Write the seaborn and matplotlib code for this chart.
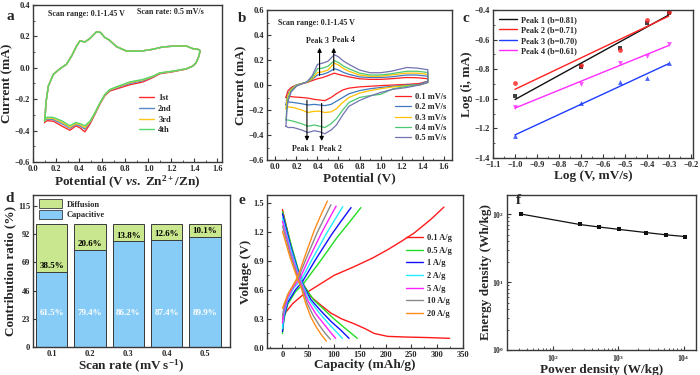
import numpy as np
import pandas as pd
import seaborn as sns
import matplotlib.pyplot as plt
import matplotlib.patches as mpatches
from matplotlib.ticker import MultipleLocator, AutoMinorLocator, LogLocator, NullFormatter

# ---------------- data ----------------
# (a) CV, first 4 cycles at 0.5 mV/s
a_cycles = ['1st', '2nd', '3rd', '4th']
a_v_up = [0.10, 0.104, 0.112, 0.133, 0.176, 0.234, 0.29, 0.335, 0.378, 0.407, 0.45, 0.493,
          0.551, 0.585, 0.623, 0.66, 0.724, 0.81, 0.926, 1.04, 1.127, 1.24, 1.33, 1.387, 1.43, 1.45]
a_i_up = [-0.34, -0.33, -0.224, -0.117, -0.042, -0.006, 0.022, 0.075, 0.139, 0.171, 0.165, 0.186,
          0.229, 0.225, 0.193, 0.178, 0.135, 0.107, 0.105, 0.118, 0.133, 0.139, 0.139, 0.122, 0.118, 0.11]
a_v_dn = [1.45, 1.44, 1.416, 1.387, 1.33, 1.214, 1.1, 1.04, 0.954, 0.84, 0.753, 0.666, 0.623,
          0.58, 0.536, 0.493, 0.45, 0.407, 0.372, 0.32, 0.248, 0.176, 0.124, 0.104, 0.10]
a_i_dn_1st = [0.11, 0.075, 0.033, 0.011, -0.008, -0.025, -0.038, -0.062, -0.09, -0.108, -0.128, -0.148, -0.178,
              -0.232, -0.298, -0.36, -0.408, -0.382, -0.37, -0.398, -0.37, -0.34, -0.337, -0.345, -0.35]
a_i_dn_2nd = [0.11, 0.075, 0.033, 0.011, -0.007, -0.023, -0.035, -0.058, -0.082, -0.1, -0.12, -0.143, -0.174,
              -0.228, -0.293, -0.35, -0.39, -0.37, -0.362, -0.385, -0.355, -0.33, -0.327, -0.335, -0.34]
a_i_dn_3rd = [0.11, 0.075, 0.033, 0.011, -0.006, -0.022, -0.033, -0.055, -0.077, -0.094, -0.116, -0.14, -0.172,
              -0.226, -0.29, -0.345, -0.38, -0.362, -0.355, -0.378, -0.345, -0.322, -0.32, -0.33, -0.335]
a_i_dn_4th = [0.11, 0.075, 0.033, 0.011, -0.006, -0.021, -0.032, -0.053, -0.074, -0.09, -0.113, -0.138, -0.17,
              -0.224, -0.288, -0.341, -0.369, -0.356, -0.348, -0.369, -0.337, -0.316, -0.314, -0.325, -0.33]

# (b) CV at different scan rates
b_rates = ['0.1 mV/s', '0.2 mV/s', '0.3 mV/s', '0.4 mV/s', '0.5 mV/s']
b_v_up = [0.10, 0.11, 0.12, 0.15, 0.20, 0.25, 0.30, 0.35, 0.40, 0.45, 0.50, 0.56, 0.60, 0.65,
          0.70, 0.80, 0.90, 1.00, 1.10, 1.25, 1.35, 1.45]
b_v_dn = [1.45, 1.37, 1.25, 1.12, 1.00, 0.90, 0.80, 0.70, 0.64, 0.58, 0.53, 0.47, 0.42, 0.37,
          0.31, 0.25, 0.17, 0.12, 0.10]
b_i_up_01 = [-0.10, -0.07, -0.045, -0.02, 0.0, 0.01, 0.02, 0.035, 0.05, 0.06, 0.075, 0.095, 0.085, 0.075,
             0.065, 0.05, 0.045, 0.045, 0.05, 0.06, 0.058, 0.05]
b_i_up_02 = [-0.16, -0.10, -0.07, -0.03, 0.0, 0.012, 0.022, 0.045, 0.08, 0.085, 0.10, 0.13, 0.12, 0.10,
             0.085, 0.065, 0.06, 0.06, 0.065, 0.08, 0.08, 0.07]
b_i_up_03 = [-0.19, -0.12, -0.08, -0.035, -0.003, 0.012, 0.022, 0.05, 0.10, 0.105, 0.12, 0.175, 0.16, 0.13,
             0.11, 0.08, 0.07, 0.07, 0.08, 0.095, 0.095, 0.085]
b_i_up_04 = [-0.28, -0.17, -0.11, -0.045, -0.005, 0.01, 0.025, 0.06, 0.13, 0.135, 0.15, 0.195, 0.18, 0.15,
             0.13, 0.095, 0.08, 0.08, 0.09, 0.11, 0.11, 0.10]
b_i_up_05 = [-0.33, -0.20, -0.13, -0.055, -0.01, 0.008, 0.025, 0.074, 0.165, 0.175, 0.19, 0.243, 0.225, 0.19,
             0.165, 0.12, 0.098, 0.098, 0.11, 0.14, 0.135, 0.122]
b_i_dn_01 = [0.03, 0.012, 0.005, 0.0, -0.005, -0.01, -0.015, -0.025, -0.04, -0.07, -0.10, -0.125, -0.12,
             -0.115, -0.105, -0.10, -0.095, -0.09, -0.10]
b_i_dn_02 = [0.03, 0.005, 0.0, -0.01, -0.02, -0.03, -0.045, -0.07, -0.10, -0.13, -0.155, -0.165, -0.16,
             -0.155, -0.16, -0.15, -0.14, -0.135, -0.16]
b_i_dn_03 = [0.02, 0.0, -0.005, -0.015, -0.03, -0.045, -0.065, -0.10, -0.14, -0.19, -0.215, -0.22, -0.21,
             -0.21, -0.22, -0.20, -0.18, -0.175, -0.19]
b_i_dn_04 = [0.02, 0.0, -0.01, -0.03, -0.075, -0.085, -0.10, -0.14, -0.20, -0.27, -0.31, -0.34, -0.33,
             -0.32, -0.33, -0.31, -0.29, -0.28, -0.28]
b_i_dn_05 = [0.02, 0.0, -0.02, -0.034, -0.06, -0.089, -0.124, -0.17, -0.24, -0.32, -0.36, -0.39, -0.374,
             -0.366, -0.38, -0.36, -0.34, -0.34, -0.33]

# (c) log(i) vs log(v)
c_logv = [-1.0, -0.699, -0.523, -0.398, -0.301]
c_peak1 = [-0.98, -0.786, -0.657, -0.486, -0.418]
c_peak2 = [-0.893, -0.77, -0.668, -0.468, -0.411]
c_peak3 = [-1.252, -1.03, -0.889, -0.861, -0.757]
c_peak4 = [-1.055, -0.90, -0.759, -0.711, -0.632]
c_labels = ['Peak 1 (b=0.81)', 'Peak 2 (b=0.71)', 'Peak 3 (b=0.70)', 'Peak 4 (b=0.61)']

# (d) capacitive / diffusion contribution
d_rates = ['0.1', '0.2', '0.3', '0.4', '0.5']
d_capacitive = [61.5, 79.4, 86.2, 87.4, 89.9]
d_diffusion = [38.5, 20.6, 13.8, 12.6, 10.1]

# (e) GCD curves: capacity (mAh/g) and voltage (V), charge / discharge
e_rates = ['0.1 A/g', '0.5 A/g', '1 A/g', '2 A/g', '5 A/g', '10 A/g', '20 A/g']
e_chg_cap = {
    '0.1 A/g': [0, 5, 20, 40, 55, 100, 139, 175, 204, 230, 256, 288, 313],
    '0.5 A/g': [0, 3, 10, 25, 40, 75, 107, 130, 152],
    '1 A/g': [0, 3, 10, 25, 38, 65, 95, 115, 133],
    '2 A/g': [0, 3, 10, 22, 36, 58, 85, 102, 117],
    '5 A/g': [0, 3, 10, 20, 34, 52, 75, 90, 104],
    '10 A/g': [0, 3, 10, 20, 32, 48, 68, 82, 94],
    '20 A/g': [0, 5, 12, 22, 30, 45, 62, 75, 87],
}
e_chg_v = {
    '0.1 A/g': [0.30, 0.36, 0.46, 0.55, 0.60, 0.75, 0.84, 0.93, 1.015, 1.10, 1.19, 1.33, 1.455],
    '0.5 A/g': [0.15, 0.30, 0.45, 0.58, 0.66, 0.91, 1.15, 1.30, 1.45],
    '1 A/g': [0.17, 0.32, 0.47, 0.60, 0.68, 0.92, 1.17, 1.32, 1.45],
    '2 A/g': [0.20, 0.35, 0.50, 0.62, 0.70, 0.92, 1.18, 1.33, 1.46],
    '5 A/g': [0.26, 0.38, 0.52, 0.62, 0.72, 0.93, 1.18, 1.33, 1.465],
    '10 A/g': [0.33, 0.42, 0.55, 0.64, 0.74, 0.95, 1.20, 1.35, 1.48],
    '20 A/g': [0.41, 0.48, 0.57, 0.66, 0.74, 0.97, 1.22, 1.38, 1.517],
}
e_dis_cap = {
    '0.1 A/g': [0, 10, 20, 30, 39, 55, 75, 94, 115, 139, 160, 178, 204, 240, 280, 324],
    '0.5 A/g': [0, 15, 30, 42, 60, 80, 100, 120, 145],
    '1 A/g': [0, 15, 30, 41, 55, 75, 95, 112, 129],
    '2 A/g': [0, 15, 30, 40, 52, 70, 88, 102, 116],
    '5 A/g': [0, 15, 30, 39, 50, 65, 80, 92, 103],
    '10 A/g': [0, 15, 30, 38, 48, 60, 72, 83, 93],
    '20 A/g': [0, 15, 30, 36, 45, 55, 65, 75, 85],
}
e_dis_v = {
    '0.1 A/g': [1.43, 1.20, 0.98, 0.80, 0.67, 0.53, 0.44, 0.36, 0.30, 0.25, 0.20, 0.15, 0.12, 0.113, 0.108, 0.10],
    '0.5 A/g': [1.41, 1.10, 0.82, 0.64, 0.50, 0.40, 0.30, 0.21, 0.10],
    '1 A/g': [1.385, 1.07, 0.80, 0.64, 0.50, 0.38, 0.27, 0.19, 0.10],
    '2 A/g': [1.34, 1.04, 0.78, 0.64, 0.50, 0.37, 0.26, 0.18, 0.10],
    '5 A/g': [1.31, 1.00, 0.75, 0.63, 0.48, 0.35, 0.25, 0.17, 0.10],
    '10 A/g': [1.26, 0.97, 0.72, 0.62, 0.46, 0.33, 0.23, 0.15, 0.09],
    '20 A/g': [1.205, 0.93, 0.70, 0.63, 0.46, 0.32, 0.22, 0.14, 0.07],
}

# (f) Ragone plot
f_power = [33, 257, 517, 1040, 2640, 5340, 10700]
f_energy = [101, 71, 65, 60, 54, 50, 47]

# ---------------- style ----------------
sns.set_theme(style='ticks')
plt.rcParams['font.family'] = ['Liberation Serif', 'DejaVu Serif']
plt.rcParams['font.weight'] = 'bold'
plt.rcParams['axes.labelweight'] = 'bold'
plt.rcParams['axes.labelsize'] = 9.5
plt.rcParams['axes.labelpad'] = 1.0
plt.rcParams['mathtext.fontset'] = 'custom'
plt.rcParams['mathtext.rm'] = 'Liberation Serif:bold'
plt.rcParams['mathtext.bf'] = 'Liberation Serif:bold'
plt.rcParams['mathtext.it'] = 'Liberation Serif:bold:italic'
plt.rcParams['axes.edgecolor'] = '#383838'
plt.rcParams['axes.linewidth'] = 1.0

fig = plt.figure(figsize=(7, 3.75), dpi=100)


def make_ax(x0, y0, x1, y1):
    # pixel box -> figure fraction
    return fig.add_axes([x0 / 700, 1 - y1 / 375, (x1 - x0) / 700, (y1 - y0) / 375])


def style_ax(ax, minor=True):
    ax.tick_params(which='major', direction='in', length=3, width=0.8, labelsize=6, pad=2, color='#383838')
    ax.tick_params(which='minor', direction='in', length=1.6, width=0.6, color='#383838')
    if minor:
        ax.xaxis.set_minor_locator(AutoMinorLocator(2))
        ax.yaxis.set_minor_locator(AutoMinorLocator(2))
    for lab in ax.get_xticklabels() + ax.get_yticklabels():
        lab.set_fontweight('bold')


leg_kw = dict(frameon=False, fontsize=6, title=None, handletextpad=0.5, borderpad=0.2)

# ---------------- (a) ----------------
rows = []
for name, dn in zip(a_cycles, [a_i_dn_1st, a_i_dn_2nd, a_i_dn_3rd, a_i_dn_4th]):
    for v, i in zip(a_v_up + a_v_dn, a_i_up + dn):
        rows.append((name, v, i))
df_a = pd.DataFrame(rows, columns=['cycle', 'v', 'i'])

ax = make_ax(33, 5, 222, 162)
sns.lineplot(data=df_a, x='v', y='i', hue='cycle', sort=False, estimator=None, lw=1.0,
             palette=['#FF2A2A', '#5B87C2', '#FFC61E', '#55D86B'], ax=ax)
ax.set_xlim(0, 1.64)
ax.set_ylim(-0.6, 0.4)
ax.xaxis.set_major_locator(MultipleLocator(0.2))
ax.yaxis.set_major_locator(MultipleLocator(0.2))
ax.xaxis.set_major_formatter('{x:.1f}')
ax.yaxis.set_major_formatter('{x:.1f}')
ax.set_xlabel(r'Potential (V $\mathit{vs.}$ Zn$^{2+}$/Zn)')
ax.set_ylabel('Current (mA)')
ax.text(0.08, 0.93, 'Scan range: 0.1-1.45 V', transform=ax.transAxes, fontsize=5.8, fontweight='bold')
ax.text(0.55, 0.94, 'Scan rate: 0.5 mV/s', transform=ax.transAxes, fontsize=5.8, fontweight='bold')
sns.move_legend(ax, 'lower left', bbox_to_anchor=(0.53, 0.14), handlelength=1.8, labelspacing=0.32, **leg_kw)
style_ax(ax)

# ---------------- (b) ----------------
rows = []
ups = [b_i_up_01, b_i_up_02, b_i_up_03, b_i_up_04, b_i_up_05]
dns = [b_i_dn_01, b_i_dn_02, b_i_dn_03, b_i_dn_04, b_i_dn_05]
for name, up, dn in zip(b_rates, ups, dns):
    for v, i in zip(b_v_up + b_v_dn, up + dn):
        rows.append((name, v, i))
df_b = pd.DataFrame(rows, columns=['rate', 'v', 'i'])

ax = make_ax(267, 10, 452, 160)
sns.lineplot(data=df_b, x='v', y='i', hue='rate', sort=False, estimator=None, lw=0.9,
             palette=['#FF2020', '#3F78C0', '#FFC000', '#4CC870', '#7272B0'], ax=ax)
ax.set_xlim(-0.08, 1.68)
ax.set_ylim(-0.6, 0.6)
ax.xaxis.set_major_locator(MultipleLocator(0.2))
ax.yaxis.set_major_locator(MultipleLocator(0.2))
ax.xaxis.set_major_formatter('{x:.1f}')
ax.yaxis.set_major_formatter('{x:.1f}')
ax.set_xlabel('Potential (V)')
ax.set_ylabel('Current (mA)')
ax.text(0.06, 0.9, 'Scan range: 0.1-1.45 V', transform=ax.transAxes, fontsize=5.8, fontweight='bold')
arrow = dict(arrowstyle='-|>', color='black', lw=0.8, mutation_scale=6)
ax.annotate('', xy=(0.42, 0.32), xytext=(0.42, 0.055), arrowprops=arrow)
ax.annotate('', xy=(0.555, 0.32), xytext=(0.555, 0.095), arrowprops=arrow)
ax.annotate('', xy=(0.30, -0.47), xytext=(0.30, -0.10), arrowprops=arrow)
ax.annotate('', xy=(0.44, -0.47), xytext=(0.44, -0.125), arrowprops=arrow)
ax.text(0.40, 0.35, 'Peak 3', ha='center', va='center', fontsize=5.8, fontweight='bold')
ax.text(0.65, 0.36, 'Peak 4', ha='center', va='center', fontsize=5.8, fontweight='bold')
ax.text(0.27, -0.515, 'Peak 1', ha='center', va='center', fontsize=5.8, fontweight='bold')
ax.text(0.52, -0.515, 'Peak 2', ha='center', va='center', fontsize=5.8, fontweight='bold')
sns.move_legend(ax, 'lower left', bbox_to_anchor=(0.66, 0.08), handlelength=1.9, labelspacing=0.28, **leg_kw)
style_ax(ax)

# ---------------- (c) ----------------
ax = make_ax(493, 10, 693, 158)
c_cols = ['#111111', '#FF2020', '#1E3CFF', '#FF2CFF']
c_marks = ['s', 'o', '^', 'v']
for ys, col, mk in zip([c_peak1, c_peak2, c_peak3, c_peak4], c_cols, c_marks):
    sns.regplot(x=c_logv, y=ys, ci=None, marker=mk, color=col, ax=ax,
                scatter_kws={'s': 12, 'linewidths': 0}, line_kws={'lw': 1.0})
ax.set_xlim(-1.1, -0.19)
ax.set_ylim(-1.4, -0.4)
ax.xaxis.set_major_locator(MultipleLocator(0.1))
ax.yaxis.set_major_locator(MultipleLocator(0.2))
ax.xaxis.set_major_formatter('{x:.1f}')
ax.yaxis.set_major_formatter('{x:.1f}')
ax.set_xlabel('Log (V, mV/s)')
ax.set_ylabel('Log (i, mA)')
ax.legend(ax.get_lines(), c_labels, loc='upper left', bbox_to_anchor=(0.0, 1.0),
          handlelength=2.2, labelspacing=0.3, **leg_kw)
style_ax(ax)

# ---------------- (d) ----------------
ax = make_ax(33, 195, 230, 347)
col_cap, col_dif = '#86CCF6', '#C9E78E'
totals = [c + d for c, d in zip(d_capacitive, d_diffusion)]
sns.barplot(x=d_rates, y=totals, color=col_dif, saturation=1, width=0.82,
            edgecolor='#3a3a3a', linewidth=0.7, ax=ax)
sns.barplot(x=d_rates, y=d_capacitive, color=col_cap, saturation=1, width=0.82,
            edgecolor='#3a3a3a', linewidth=0.7, ax=ax)
for k, (cp, df_) in enumerate(zip(d_capacitive, d_diffusion)):
    ax.text(k, 28, f'{cp}%', ha='center', va='center', color='white', fontsize=6.5, fontweight='bold')
    ax.text(k, cp + 1.2, f'{df_}%', ha='center', va='bottom', color='black', fontsize=6.5, fontweight='bold')
ax.set_xlim(-0.49, 4.65)
ax.set_ylim(0, 124)
ax.set_yticks([0, 23, 46, 69, 92, 115])
ax.set_xlabel(r'Scan rate (mV s$^{-1}$)', labelpad=0.0)
ax.set_ylabel('Contribution ratio (%)')
ax.legend(handles=[mpatches.Patch(facecolor=col_dif, edgecolor='#3a3a3a', lw=0.6, label='Diffusion'),
                   mpatches.Patch(facecolor=col_cap, edgecolor='#3a3a3a', lw=0.6, label='Capacitive')],
          loc='upper left', bbox_to_anchor=(0.0, 1.01), handlelength=2.8, handleheight=1.3,
          labelspacing=0.15, **leg_kw)
style_ax(ax, minor=False)
ax.tick_params(axis='x', length=0)

# ---------------- (e) ----------------
rows = []
for r in e_rates:
    for c, v in zip(e_chg_cap[r], e_chg_v[r]):
        rows.append((r, 'charge', c, v))
    for c, v in zip(e_dis_cap[r], e_dis_v[r]):
        rows.append((r, 'discharge', c, v))
df_e = pd.DataFrame(rows, columns=['rate', 'branch', 'cap', 'v'])

ax = make_ax(267, 195, 463, 348)
sns.lineplot(data=df_e, x='cap', y='v', hue='rate', units='branch', estimator=None, sort=False, lw=1.0,
             palette=['#FF1A1A', '#22DD22', '#1010FF', '#22EEFF', '#FF22FF', '#8A8A8A', '#FF8C1A'], ax=ax)
ax.set_xlim(-30, 350)
ax.set_ylim(0, 1.58)
ax.xaxis.set_major_locator(MultipleLocator(50))
ax.yaxis.set_major_locator(MultipleLocator(0.3))
ax.yaxis.set_major_formatter('{x:.1f}')
ax.set_xlabel('Capacity (mAh/g)', labelpad=0.0)
ax.set_ylabel('Voltage (V)')
sns.move_legend(ax, 'lower left', bbox_to_anchor=(0.68, 0.16), handlelength=2.0, labelspacing=0.55, **leg_kw)
style_ax(ax)

# ---------------- (f) ----------------
ax = make_ax(507, 195, 696, 350)
sns.lineplot(x=f_power, y=f_energy, marker='s', color='#111111', markersize=3.5,
             markeredgewidth=0, lw=0.9, ax=ax)
ax.set_xscale('log')
ax.set_yscale('log')
ax.set_xlim(20, 15500)
ax.set_ylim(1, 193)
ax.xaxis.set_major_locator(LogLocator(base=10))
ax.yaxis.set_major_locator(LogLocator(base=10))
ax.xaxis.set_minor_locator(LogLocator(base=10, subs=np.arange(2, 10)))
ax.yaxis.set_minor_locator(LogLocator(base=10, subs=np.arange(2, 10)))
ax.xaxis.set_minor_formatter(NullFormatter())
ax.yaxis.set_minor_formatter(NullFormatter())
ax.set_xlabel('Power density (W/kg)', labelpad=0.0)
ax.set_ylabel('Energy density (Wh/kg)', labelpad=0.0)
style_ax(ax, minor=False)
ax.tick_params(labelsize=5.5)

# panel letters
for letter, (px, py) in zip('abcdef', [(10, 16), (242, 18), (466, 18), (10, 198), (242, 200), (518, 201)]):
    fig.text(px / 700, 1 - py / 375, letter, fontsize=11, fontweight='bold', ha='center', va='center')

plt.savefig('out.png', dpi=100)
